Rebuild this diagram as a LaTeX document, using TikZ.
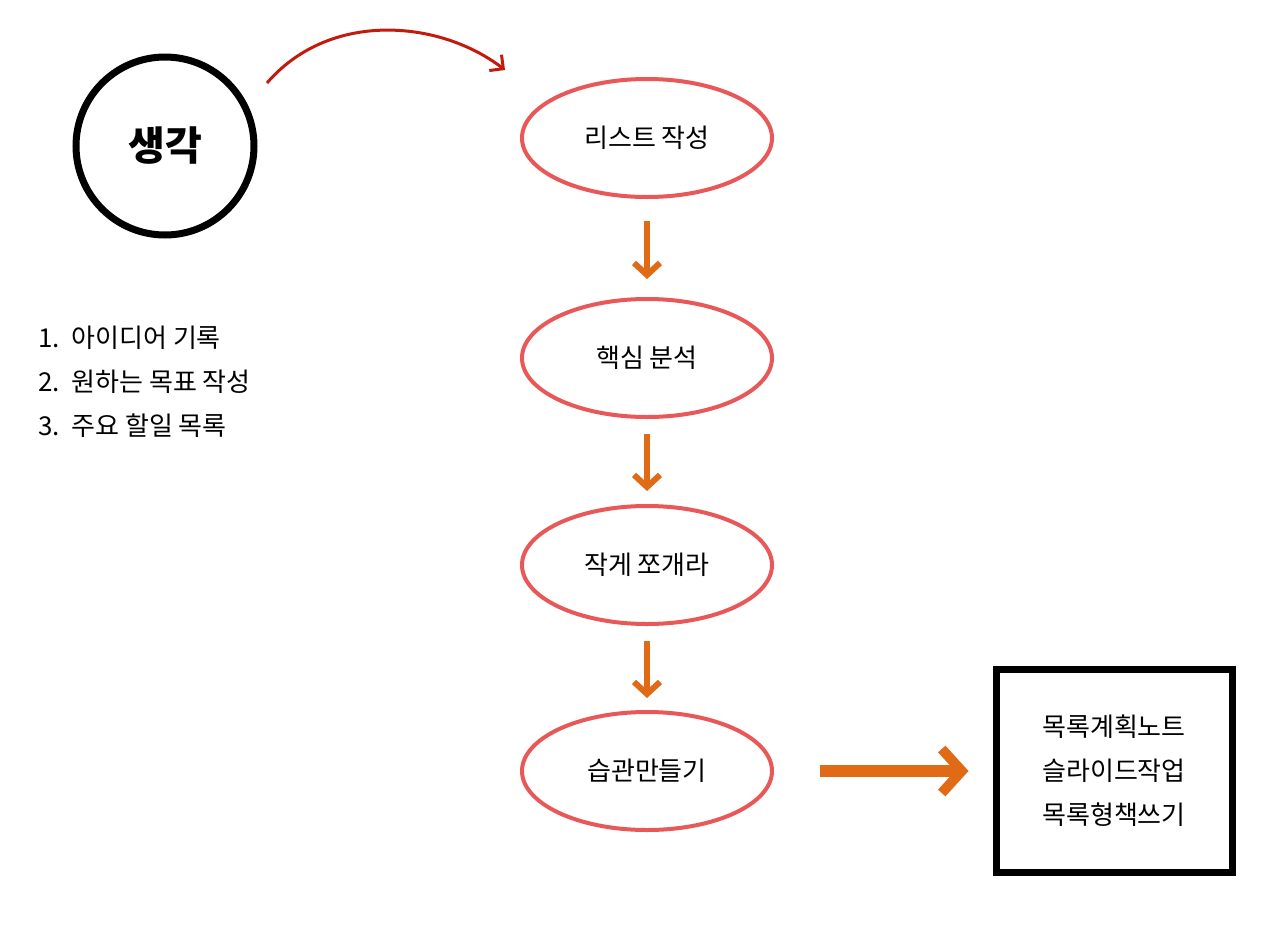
\documentclass[tikz,border=0pt]{standalone}
\usepackage{fontspec}
\setmainfont{Noto Sans CJK KR}
\usetikzlibrary{arrows.meta}
\definecolor{ell}{HTML}{E85858}
\definecolor{org}{HTML}{E06A15}
\definecolor{dred}{HTML}{C41A0E}
\begin{document}
\begin{tikzpicture}[x=1pt,y=-1pt,
  ellnode/.style={draw=ell,line width=4pt,ellipse,minimum width=250pt,minimum height=118pt,font=\fontsize{26}{30}\selectfont},
  darrow/.style={draw=org,line width=6pt,-{Straight Barb[length=12pt,width=26pt,line width=6pt]}},
  txt/.style={font=\fontsize{26}{44}\selectfont,align=left,anchor=north west,inner sep=0pt}]
\usetikzlibrary{shapes.geometric}
\useasboundingbox (0,0) rectangle (1270,932);
\node[circle,draw,line width=7pt,minimum size=178pt,font=\bfseries\fontsize{40}{44}\selectfont] (think) at (165,146) {생각};
\coordinate (cs) at (267,83);
\node[ellnode] (e1) at (647,138) {리스트 작성};
\node[ellnode] (e2) at (647,358) {핵심 분석};
\node[ellnode] (e3) at (647,565) {작게 쪼개라};
\node[ellnode] (e4) at (647,771) {습관만들기};
\coordinate (ce) at (505,70);
\draw[dred,line width=3pt,-{Straight Barb[length=10pt,width=20pt,line width=3pt]}] (cs) .. controls (330,10) and (440,20) .. (ce);
\draw[darrow] ([yshift=-22pt]e1.south) -- ([yshift=-80pt]e1.south);
\draw[darrow] ([yshift=-15pt]e2.south) -- ([yshift=-72pt]e2.south);
\draw[darrow] ([yshift=-15pt]e3.south) -- ([yshift=-72pt]e3.south);
\node[draw,line width=7pt,minimum width=236pt,minimum height=203pt,font=\fontsize{26}{44}\selectfont,align=center] (box) at (1114,771) {목록계획노트\\슬라이드작업\\목록형책쓰기};
\draw[org,line width=12pt,-{Straight Barb[length=20pt,width=44pt,line width=10pt]}] ([xshift=46pt]e4.east) -- ([xshift=-24pt]box.west);
\node[txt] (list) at (38,326) {1.\ \ 아이디어 기록\\2.\ \ 원하는 목표 작성\\3.\ \ 주요 할일 목록};
\end{tikzpicture}
\end{document}
